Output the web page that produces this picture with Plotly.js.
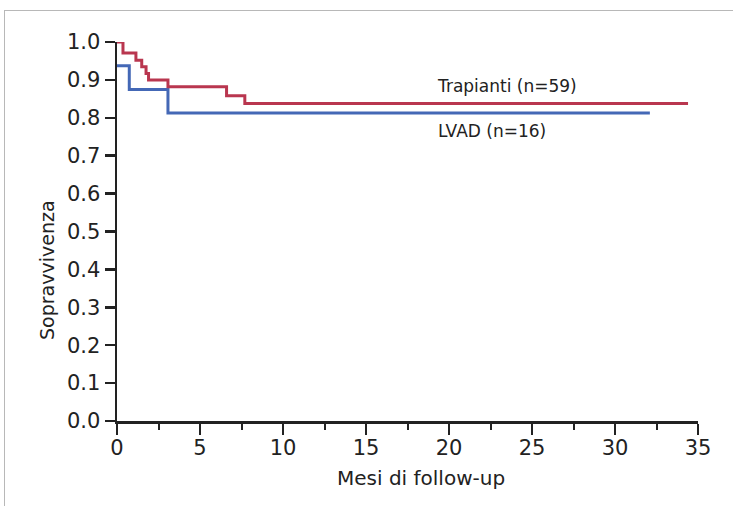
<!DOCTYPE html>
<html><head><meta charset="utf-8">
<script src="https://cdn.plot.ly/plotly-3.0.1.min.js"></script>
<style>
html,body{margin:0;padding:0;background:#fff;}
#wrap{position:relative;width:733px;height:506px;overflow:hidden;}
#frame{position:absolute;left:4px;top:10px;width:740px;height:510px;border-top:1.5px solid #b8b8b8;border-left:1.5px solid #b8b8b8;pointer-events:none;}
#chart{position:absolute;left:0;top:0;width:733px;height:506px;}
</style></head>
<body>
<div id="wrap"><div id="chart"></div><div id="frame"></div></div>
<script>
// Kaplan-Meier step points (months, survival); each y holds until the next x
var trapiantiX = [0, 0.36, 1.14, 1.49, 1.75, 1.9, 3.07, 6.6, 7.7, 34.4];
var trapiantiY = [1.0, 0.971, 0.952, 0.935, 0.917, 0.90, 0.882, 0.858, 0.838, 0.838];
var lvadX = [0, 0.74, 3.07, 32.1];
var lvadY = [0.9375, 0.875, 0.8125, 0.8125];
var xTicks = [0, 5, 10, 15, 20, 25, 30, 35];
var yTicks = [0, 0.1, 0.2, 0.3, 0.4, 0.5, 0.6, 0.7, 0.8, 0.9, 1.0];
var yTickText = ["0.0","0.1","0.2","0.3","0.4","0.5","0.6","0.7","0.8","0.9","1.0"];
var labelTrapianti = "Trapianti (n=59)";
var labelLvad = "LVAD (n=16)";
var xTitle = "Mesi di follow-up";
var yTitle = "Sopravvivenza";

var font = "DejaVu Sans, sans-serif";
var ink = "#222";
var t1 = {x: lvadX, y: lvadY, mode: "lines", line: {shape: "hv", color: "#4468b6", width: 3}, cliponaxis: false, hoverinfo: "skip"};
var t2 = {x: trapiantiX, y: trapiantiY, mode: "lines", line: {shape: "hv", color: "#b9364f", width: 3}, cliponaxis: false, hoverinfo: "skip"};

var L = 117, R = 35, T = 42, B = 85, W = 733, H = 506;
var plotW = W - L - R, plotH = H - T - B;
function px(xp){ return (xp - L) / plotW; }
function py(yp){ return (H - B - yp) / plotH; }

var layout = {
  width: W, height: H,
  margin: {l: L, r: R, t: T, b: B},
  paper_bgcolor: "#fff", plot_bgcolor: "#fff",
  showlegend: false,
  font: {family: font, color: ink, size: 17},
  xaxis: {
    range: [0, 35], tickvals: xTicks, ticks: "outside", ticklen: 11, tickwidth: 2.5, tickcolor: ink,
    showline: true, linecolor: ink, linewidth: 2.5, showgrid: false, zeroline: false,
    tickfont: {family: font, size: 21, color: ink}, ticklabelstandoff: -5,
    minor: {dtick: 2.5, ticks: "outside", ticklen: 6, tickwidth: 2, tickcolor: ink, showgrid: false}
  },
  yaxis: {
    range: [0, 1.0], tickvals: yTicks, ticktext: yTickText, ticks: "outside", ticklen: 10, tickwidth: 2.5, tickcolor: ink,
    showline: true, linecolor: ink, linewidth: 2.5, showgrid: false, zeroline: false,
    tickfont: {family: font, size: 21, color: ink}
  },
  annotations: [
    {x: 23.5, y: 0.884, xref: "x", yref: "y", text: labelTrapianti, showarrow: false, font: {family: font, size: 17, color: ink}},
    {x: 22.6, y: 0.765, xref: "x", yref: "y", text: labelLvad, showarrow: false, font: {family: font, size: 17, color: ink}},
    {x: px(47), y: py(270), xref: "paper", yref: "paper", xanchor: "center", yanchor: "middle",
     text: yTitle, showarrow: false, textangle: -90, font: {family: font, size: 19, color: ink}},
    {x: px(421), y: py(478), xref: "paper", yref: "paper", xanchor: "center", yanchor: "middle",
     text: xTitle, showarrow: false, font: {family: font, size: 20, color: ink}}
  ]
};

Plotly.newPlot("chart", [t1, t2], layout, {displayModeBar: false, staticPlot: true});
</script>
</body></html>
